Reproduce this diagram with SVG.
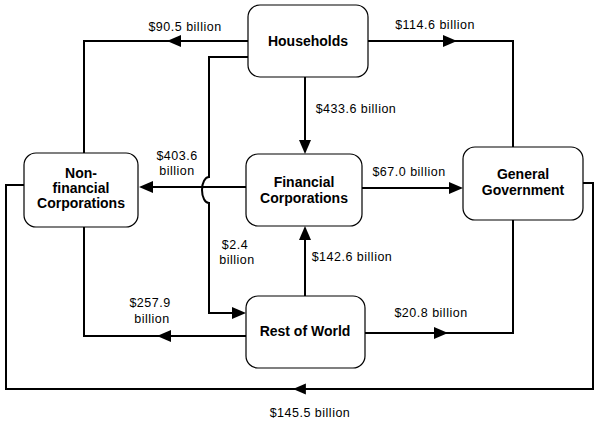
<svg xmlns="http://www.w3.org/2000/svg" xmlns:xlink="http://www.w3.org/1999/xlink" width="599" height="427" viewBox="0 0 599 427">
<style>
.box{fill:#fff;stroke:#000;stroke-width:1.2}
.node{font-family:"Liberation Sans",Arial,sans-serif;font-weight:bold;font-size:14px;text-anchor:middle;fill:#000}
.lbl{font-family:"Liberation Sans",Arial,sans-serif;font-size:12.5px;letter-spacing:0.5px;text-anchor:middle;fill:#000}
.ln{fill:none;stroke:#000;stroke-width:2}
</style>
<defs>
<path id="ah" d="M0,0 L-14,-6 L-14,6 Z" fill="#000"/>
</defs>
<rect width="599" height="427" fill="#fff"/>
<g id="connectors">
<path class="ln" d="M248,41 H84 V153"/>
<path class="ln" d="M248,57 H209 V177 A7 13 0 0 0 209 203 V313 H240"/>
<path class="ln" d="M368,41 H513 V147"/>
<path class="ln" d="M305,77 V148"/>
<path class="ln" d="M246,187 H144"/>
<path class="ln" d="M362,188 H457"/>
<path class="ln" d="M305,296 V232"/>
<path class="ln" d="M246,336 H84 V227"/>
<path class="ln" d="M365,333 H513 V220"/>
<path class="ln" d="M583,183 H593 V389 H6 V185 H24"/>
<use xlink:href="#ah" transform="translate(167,41) rotate(180)"/>
<use xlink:href="#ah" transform="translate(457,41)"/>
<use xlink:href="#ah" transform="translate(305,154) rotate(90)"/>
<use xlink:href="#ah" transform="translate(139,187) rotate(180)"/>
<use xlink:href="#ah" transform="translate(463,188)"/>
<use xlink:href="#ah" transform="translate(246,313)"/>
<use xlink:href="#ah" transform="translate(305,226) rotate(-90)"/>
<use xlink:href="#ah" transform="translate(157,336) rotate(180)"/>
<use xlink:href="#ah" transform="translate(448,333)"/>
<use xlink:href="#ah" transform="translate(293,389) rotate(180) scale(0.92)"/>
<text class="lbl" x="185" y="31">$90.5 billion</text>
<text class="lbl" x="435" y="29">$114.6 billion</text>
<text class="lbl" x="356" y="113">$433.6 billion</text>
<text class="lbl" x="177" y="160">$403.6</text>
<text class="lbl" x="177" y="175">billion</text>
<text class="lbl" x="409" y="176">$67.0 billion</text>
<text class="lbl" x="235" y="249">$2.4</text>
<text class="lbl" x="237" y="264">billion</text>
<text class="lbl" x="352" y="261">$142.6 billion</text>
<text class="lbl" x="150" y="307">$257.9</text>
<text class="lbl" x="152" y="323">billion</text>
<text class="lbl" x="431" y="317">$20.8 billion</text>
<text class="lbl" x="310" y="417">$145.5 billion</text>
</g>
<g id="households">
<rect class="box" x="248" y="5" width="120" height="72" rx="12"/>
<text class="node" x="308" y="46">Households</text>
</g>
<g id="nonfinancial">
<rect class="box" x="24" y="153" width="114" height="74" rx="12"/>
<text class="node" x="81" y="178">Non-</text>
<text class="node" x="81" y="193">financial</text>
<text class="node" x="81" y="208">Corporations</text>
</g>
<g id="financial">
<rect class="box" x="246" y="154" width="116" height="72" rx="12"/>
<text class="node" x="304" y="187">Financial</text>
<text class="node" x="304" y="203">Corporations</text>
</g>
<g id="government">
<rect class="box" x="463" y="147" width="120" height="73" rx="12"/>
<text class="node" x="523" y="179">General</text>
<text class="node" x="523" y="195">Government</text>
</g>
<g id="restofworld">
<rect class="box" x="246" y="296" width="119" height="72" rx="12"/>
<text class="node" x="305" y="336">Rest of World</text>
</g>
</svg>
